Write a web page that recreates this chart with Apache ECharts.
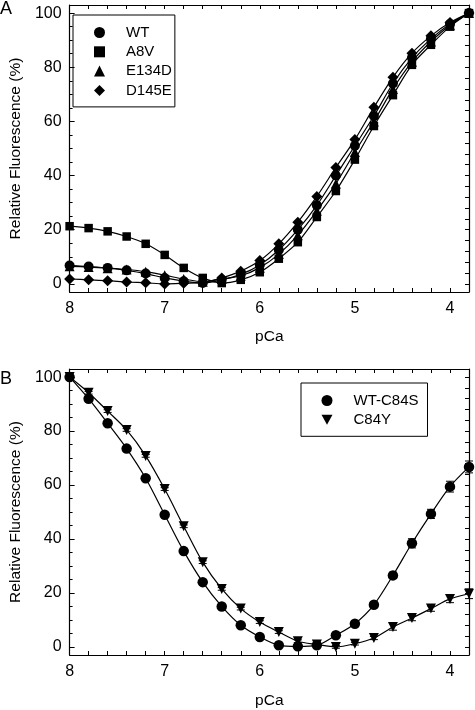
<!DOCTYPE html>
<html>
<head>
<meta charset="utf-8">
<script src="https://cdn.jsdelivr.net/npm/echarts@6/dist/echarts.min.js"></script>
<style>
html,body{margin:0;padding:0;background:#fff;}
#chart{width:475px;height:710px;}
</style>
</head>
<body>
<div id="chart"></div>
<script>
// ---- Data ----
const pCa = [8.0, 7.8, 7.6, 7.4, 7.2, 7.0, 6.8, 6.6, 6.4, 6.2, 6.0, 5.8, 5.6, 5.4, 5.2, 5.0, 4.8, 4.6, 4.4, 4.2, 4.0, 3.8];

// Panel A
const wtA    = [6.8, 6.4, 5.9, 5.0, 3.8, 2.2, 1.0, 0.3, 1.5, 3.5, 7.0, 12.5, 20.0, 29.0, 40.0, 51.0, 62.0, 74.0, 83.5, 90.5, 96.0, 100];
const a8v    = [21.3, 20.6, 19.4, 17.5, 14.8, 10.7, 5.9, 2.2, 0.3, 1.5, 4.3, 9.3, 15.4, 24.7, 34.3, 45.9, 58.3, 69.7, 80.9, 88.3, 95.0, 100];
const e134d  = [6.5, 6.2, 5.8, 5.3, 4.5, 3.2, 1.8, 0.8, 1.8, 3.0, 6.0, 11.0, 18.0, 27.0, 37.0, 48.7, 60.0, 72.0, 82.0, 89.5, 95.5, 100];
const d145e  = [1.8, 1.5, 1.2, 0.7, 0.4, 0.0, 0.2, 0.5, 2.2, 4.7, 8.6, 14.8, 22.8, 32.3, 43.0, 53.3, 65.2, 76.3, 85.2, 91.6, 96.5, 100];

// Panel B
const wtC84S = [100, 92.0, 82.9, 73.5, 62.5, 49.0, 35.5, 24.0, 15.0, 8.0, 3.7, 0.6, 0.2, 0.6, 4.3, 8.6, 15.6, 26.5, 38.4, 49.3, 59.4, 66.7];
const c84y   = [100, 94.2, 87.4, 80.4, 70.8, 58.5, 44.7, 31.4, 21.5, 14.2, 9.2, 5.5, 2.1, 0.9, 0.0, 1.2, 3.3, 7.4, 10.7, 14.2, 17.8, 19.7];
const errWT  = [0.5, 0.5, 0.5, 0.5, 0.5, 0.5, 0.5, 0.5, 0.5, 0.5, 0.5, 0.5, 0.5, 0.5, 0.5, 0.6, 0.8, 1.2, 1.7, 1.7, 2.0, 2.2];
const errY   = [0.5, 0.5, 0.5, 0.5, 0.5, 0.5, 0.5, 0.5, 0.5, 0.5, 0.5, 0.5, 0.5, 0.5, 0.5, 0.5, 0.6, 1.2, 1.0, 1.0, 1.4, 1.8];

// Tick labels
const xLabels = [8, 7, 6, 5, 4];
const yLabels = [0, 20, 40, 60, 80, 100];

// ---- Helpers ----
const FONT = "'Liberation Sans', Arial, Helvetica, sans-serif";
const xTickVals = [];
for (let i = 0; i <= 20; i++) xTickVals.push(+(8 - i * 0.2).toFixed(1));
const yMinorVals = [];
for (let v = 0; v <= 100; v += 5) yMinorVals.push(v);
const yRightVals = [];
for (let v = 0; v <= 100; v += 4) yRightVals.push(v);

function pairs(ys) { return pCa.map((x, i) => [x, ys[i]]); }
function triples(ys, es) { return pCa.map((x, i) => [x, ys[i], es[i]]); }

function xAxes(gridIndex, nameGap) {
  const common = {
    type: 'value', gridIndex, min: 3.8, max: 8, inverse: true,
    axisLine: { show: true, onZero: false, lineStyle: { color: '#000', width: 1.2 } },
    splitLine: { show: false }
  };
  return [
    Object.assign({}, common, {
      position: 'bottom',
      name: 'pCa', nameLocation: 'middle', nameGap: nameGap,
      nameTextStyle: { color: '#000', fontSize: 15.5, fontFamily: FONT },
      axisTick: { show: true, inside: true, length: 4, customValues: xTickVals, lineStyle: { color: '#000' } },
      axisLabel: { show: true, customValues: xLabels, margin: 9, color: '#000', fontSize: 16, fontFamily: FONT }
    }),
    Object.assign({}, common, {
      position: 'top',
      axisTick: { show: true, inside: true, length: 4, customValues: xTickVals, lineStyle: { color: '#000' } },
      axisLabel: { show: false }
    })
  ];
}

function yAxes(gridIndex) {
  const common = {
    type: 'value', gridIndex, min: -3, max: 103,
    splitLine: { show: false }
  };
  return [
    Object.assign({}, common, {
      position: 'left',
      name: 'Relative Fluorescence (%)', nameLocation: 'middle', nameGap: 43,
      nameTextStyle: { color: '#000', fontSize: 15.5, fontFamily: FONT },
      axisLine: { show: true, onZero: false, lineStyle: { color: '#000', width: 1.2 } },
      axisTick: { show: true, inside: true, length: 5, customValues: yLabels, lineStyle: { color: '#000' } },
      axisLabel: { show: true, customValues: yLabels, margin: 8, color: '#000', fontSize: 16, fontFamily: FONT }
    }),
    Object.assign({}, common, {
      position: 'left',
      axisLine: { show: false },
      axisTick: { show: true, inside: true, length: 3, customValues: yMinorVals, lineStyle: { color: '#000' } },
      axisLabel: { show: false }
    }),
    Object.assign({}, common, {
      position: 'right',
      axisLine: { show: true, onZero: false, lineStyle: { color: '#000', width: 1.2 } },
      axisTick: { show: true, inside: true, length: 4, customValues: yRightVals, lineStyle: { color: '#000' } },
      axisLabel: { show: false }
    })
  ];
}

function lineSeries(name, ys, xi, yi, symbol, size, rotate) {
  return {
    name, type: 'line', xAxisIndex: xi, yAxisIndex: yi,
    data: pairs(ys), smooth: 0.3,
    symbol, symbolSize: size, symbolRotate: rotate || 0, showSymbol: true,
    lineStyle: { color: '#000', width: 1.2 },
    itemStyle: { color: '#000' },
    z: 3
  };
}

function errSeries(ys, es, xi, yi) {
  return {
    type: 'custom', xAxisIndex: xi, yAxisIndex: yi,
    data: triples(ys, es), z: 2, silent: true,
    renderItem: function (params, api) {
      const x = api.value(0), y = api.value(1), e = api.value(2);
      const t = api.coord([x, y + e]), b = api.coord([x, y - e]);
      const hw = 4;
      const st = { stroke: '#000', lineWidth: 1 };
      return {
        type: 'group', children: [
          { type: 'line', shape: { x1: t[0], y1: t[1], x2: b[0], y2: b[1] }, style: st },
          { type: 'line', shape: { x1: t[0] - hw, y1: t[1], x2: t[0] + hw, y2: t[1] }, style: st },
          { type: 'line', shape: { x1: b[0] - hw, y1: b[1], x2: b[0] + hw, y2: b[1] }, style: st }
        ]
      };
    }
  };
}

const downTri = 'path://M0,0 L10,0 L5,9 Z';

const legendText = { color: '#000', fontSize: 15, fontFamily: FONT, lineHeight: 15, padding: [0, 0, 0, 16] };

const option = {
  animation: false,
  backgroundColor: '#fff',
  grid: [
    { left: 60, top: 5, width: 409, height: 287 },
    { left: 60, top: 369, width: 409, height: 287 }
  ],
  xAxis: [].concat(xAxes(0, 37), xAxes(1, 38)),
  yAxis: [].concat(yAxes(0), yAxes(1)),
  legend: [
    {
      left: 73, top: 15, orient: 'vertical',
      padding: [10, 3, 9, 21], itemGap: 4.3,
      itemWidth: 11, itemHeight: 11,
      borderColor: '#000', borderWidth: 1,
      selectedMode: false,
      textStyle: legendText,
      data: [
        { name: 'WT', icon: 'circle' },
        { name: 'A8V', icon: 'rect' },
        { name: 'E134D', icon: 'triangle' },
        { name: 'D145E', icon: 'diamond' }
      ]
    },
    {
      left: 301, top: 383, orient: 'vertical',
      padding: [10, 9, 9, 20.5], itemGap: 4.3,
      itemWidth: 11, itemHeight: 11,
      borderColor: '#000', borderWidth: 1,
      selectedMode: false,
      textStyle: legendText,
      data: [
        { name: 'WT-C84S', icon: 'circle' },
        { name: 'C84Y', icon: downTri }
      ]
    }
  ],
  graphic: [
    { type: 'text', left: 0, top: 0, style: { text: 'A', fill: '#000', font: '18px ' + FONT } },
    { type: 'text', left: 0, top: 370, style: { text: 'B', fill: '#000', font: '18px ' + FONT } }
  ],
  series: [
    lineSeries('WT', wtA, 0, 0, 'circle', 10),
    lineSeries('A8V', a8v, 0, 0, 'rect', 8.5),
    lineSeries('E134D', e134d, 0, 0, 'triangle', 10),
    lineSeries('D145E', d145e, 0, 0, 'diamond', 11),
    errSeries(wtC84S, errWT, 2, 3),
    errSeries(c84y, errY, 2, 3),
    lineSeries('WT-C84S', wtC84S, 2, 3, 'circle', 10.5),
    lineSeries('C84Y', c84y, 2, 3, downTri, 10)
  ]
};

const chart = echarts.init(document.getElementById('chart'), null, { renderer: 'canvas' });
chart.setOption(option);
</script>
</body>
</html>
